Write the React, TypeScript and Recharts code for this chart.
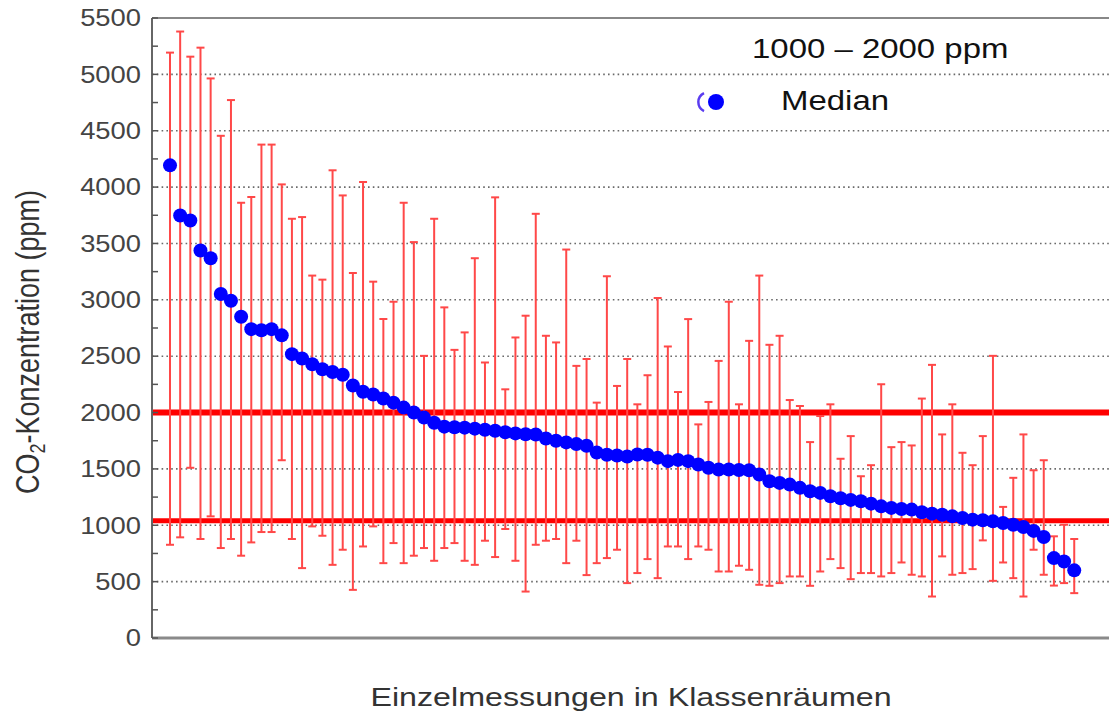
import React from "react";
import { ScatterChart, Scatter, ErrorBar, XAxis, YAxis, ReferenceLine, Legend } from "recharts";

// medians, minima and maxima per classroom measurement (ppm), sorted by median
const MEDIAN = [
  4193, 3748, 3704, 3437, 3369, 3052, 2992, 2850, 2740, 2730,
  2740, 2685, 2518, 2479, 2429, 2384, 2360, 2335, 2240, 2185,
  2160, 2124, 2088, 2044, 2000, 1955, 1910, 1875, 1870, 1866,
  1857, 1848, 1838, 1825, 1815, 1808, 1805, 1770, 1750, 1735,
  1720, 1705, 1645, 1625, 1619, 1610, 1628, 1625, 1600, 1569,
  1580, 1569, 1539, 1510, 1495, 1495, 1490, 1488, 1450, 1391,
  1376, 1361, 1332, 1302, 1287, 1257, 1240, 1225, 1213, 1192,
  1168, 1154, 1145, 1139, 1115, 1103, 1094, 1079, 1065, 1050,
  1044, 1035, 1020, 1005, 985, 950, 896, 709, 679, 600,
];
const MAX = [
  5193, 5380, 5157, 5237, 4964, 4455, 4772, 3861, 3912, 4377,
  4377, 4024, 3719, 3734, 3215, 3179, 4149, 3926, 3238, 4045,
  3161, 2830, 2983, 3861, 3512, 2503, 3719, 2933, 2556, 2711,
  3369, 2444, 3909, 2206, 2666, 2859, 3763, 2681, 2622, 3446,
  2414, 2475, 2088, 3209, 2236, 2475, 2073, 2331, 3016, 2586,
  2182, 2829, 1895, 2094, 2458, 2983, 2073, 2636, 3215, 2601,
  2681, 2111, 2058, 1738, 1969, 2073, 1590, 1791, 1435, 1533,
  2251, 1693, 1738, 1708, 2124, 2423, 1806, 2073, 1643, 1533,
  1791, 2503, 1163, 1421, 1806, 1488, 1577, 902, 1005, 878,
];
const MIN = [
  827, 893, 1510, 878, 1079, 798, 878, 730, 848, 940,
  940, 1577, 878, 620, 990, 907, 649, 783, 427, 812,
  990, 664, 842, 664, 730, 798, 685, 798, 842, 685,
  649, 863, 718, 967, 685, 412, 827, 863, 878, 664,
  863, 558, 664, 709, 783, 487, 576, 700, 531, 812,
  812, 700, 812, 783, 590, 590, 641, 605, 472, 463,
  487, 546, 546, 463, 590, 700, 620, 522, 576, 576,
  546, 576, 670, 561, 546, 368, 724, 561, 576, 611,
  866, 507, 670, 531, 368, 783, 561, 465, 487, 398,
];

const Y_TICKS = [
  0, 250, 500, 750, 1000, 1250, 1500, 1750, 2000, 2250, 2500, 2750,
  3000, 3250, 3500, 3750, 4000, 4250, 4500, 4750, 5000, 5250, 5500,
];
const GRID = [500, 1000, 1500, 2000, 2500, 3000, 3500, 4000, 4500, 5000];
const LIMITS = [2000, 1040];

const rows = MEDIAN.map((m, i) => ({
  idx: i + 1,
  median: m,
  err: [m - MIN[i], MAX[i] - m],
}));

const FONT = "'Liberation Sans', Arial, sans-serif";

const LeftTick = (props: any) => {
  const { x, y, payload } = props;
  const v = payload.value;
  const ax = x + 11;
  return (
    <g>
      <line x1={ax} x2={ax + 6} y1={y} y2={y} stroke="#555" strokeWidth={1.5} />
      {v % 500 === 0 && (
        <text
          transform={`translate(${x},${y}) scale(1.19,1)`}
          textAnchor="end"
          dy="0.36em"
          fontSize={23}
          fill="#444"
          fontFamily={FONT}
        >
          {v}
        </text>
      )}
    </g>
  );
};

const RightTick = (props: any) => {
  const { x, y } = props;
  return <line x1={x - 7} x2={x} y1={y} y2={y} stroke="#555" strokeWidth={1.5} />;
};

const XTitle = (props: any) => {
  const vb = props.viewBox || { x: 152, y: 638, width: 958 };
  const cx = vb.x + vb.width / 2;
  return (
    <text
      transform={`translate(${cx},${vb.y + 68}) scale(1.24,1)`}
      textAnchor="middle"
      fontSize={26}
      fill="#333"
      fontFamily={FONT}
    >
      Einzelmessungen in Klassenräumen
    </text>
  );
};

const YTitle = (props: any) => {
  const vb = props.viewBox || { x: 52, y: 18, height: 620 };
  const cy = vb.y + vb.height / 2 + 14;
  return (
    <text
      transform={`translate(39,${cy}) rotate(-90) scale(1,1.22)`}
      textAnchor="middle"
      fontSize={27}
      fill="#333"
      fontFamily={FONT}
    >
      <tspan>CO</tspan>
      <tspan fontSize={18} dy={5}>2</tspan>
      <tspan dy={-5}>-Konzentration (ppm)</tspan>
    </text>
  );
};

const LegendBox = () => (
  <div style={{ position: "relative", fontFamily: FONT, color: "#111" }}>
    <div
      style={{
        position: "absolute", left: 752, top: 34, fontSize: 27, lineHeight: "30px",
        whiteSpace: "nowrap", transform: "scaleX(1.22)", transformOrigin: "0 0",
      }}
    >
      1000 – 2000 ppm
    </div>
    <svg style={{ position: "absolute", left: 690, top: 85 }} width={40} height={34}>
      <path d="M 14 8 A 10 10 0 0 0 14 26" fill="none" stroke="#5a3cf0" strokeWidth={2.5} />
      <circle cx={26} cy={17} r={8} fill="#0000ff" />
    </svg>
    <div
      style={{
        position: "absolute", left: 781, top: 86, fontSize: 27, lineHeight: "30px",
        whiteSpace: "nowrap", transform: "scaleX(1.22)", transformOrigin: "0 0",
      }}
    >
      Median
    </div>
  </div>
);

export default function App() {
  return (
    <div style={{ position: "absolute", left: 0, top: 0, width: 1109, height: 715, overflow: "hidden", background: "#fff" }}>
      <ScatterChart width={1110} height={715} margin={{ top: 18, right: 0, bottom: 17, left: 52 }}>
        <XAxis
          dataKey="idx"
          type="number"
          domain={[-0.772, 93.52]}
          allowDataOverflow
          tick={false}
          tickLine={false}
          axisLine={{ stroke: "#8a8a8a", strokeWidth: 3 }}
          height={60}
          label={<XTitle />}
        />
        <YAxis
          yAxisId="l"
          dataKey="median"
          type="number"
          domain={[0, 5500]}
          allowDataOverflow
          ticks={Y_TICKS}
          interval={0}
          tick={<LeftTick />}
          tickLine={false}
          tickSize={0}
          tickMargin={11}
          axisLine={{ stroke: "#666", strokeWidth: 2 }}
          width={100}
          label={<YTitle />}
        />
        <YAxis
          yAxisId="r"
          orientation="right"
          type="number"
          domain={[0, 5500]}
          ticks={Y_TICKS}
          interval={0}
          tick={<RightTick />}
          tickLine={false}
          tickSize={0}
          tickMargin={0}
          axisLine={false}
          width={0}
        />
        {GRID.map((g) => (
          <ReferenceLine key={g} yAxisId="l" y={g} stroke="#6a6a6a" strokeWidth={1.6} strokeDasharray="1.6 3.2" />
        ))}
        <ReferenceLine yAxisId="l" y={5500} stroke="#888" strokeWidth={2} />
        {LIMITS.map((v, i) => (
          <ReferenceLine key={v} yAxisId="l" y={v} stroke="#ff0000" strokeWidth={i === 0 ? 6 : 5} />
        ))}
        <Scatter
          yAxisId="l"
          data={rows}
          isAnimationActive={false}
          shape={(p: any) => <circle cx={p.cx} cy={p.cy} r={7} fill="#0000ff" />}
        >
          <ErrorBar dataKey="err" direction="y" width={4} stroke="#ff4848" strokeWidth={2} isAnimationActive={false} />
        </Scatter>
        <Legend
          layout="horizontal"
          verticalAlign="middle"
          align="center"
          wrapperStyle={{ left: 0, top: 0, width: 1, height: 1 }}
          content={() => <LegendBox />}
        />
      </ScatterChart>
    </div>
  );
}
